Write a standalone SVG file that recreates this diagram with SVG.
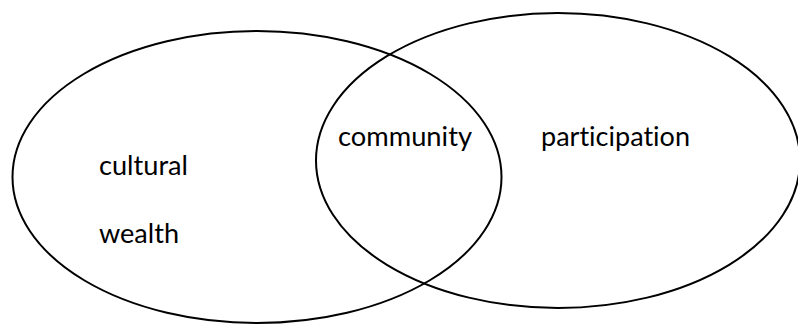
<svg xmlns="http://www.w3.org/2000/svg" width="798" height="324" viewBox="0 0 798 324">
  <style>
    .set { fill: none; stroke: #000; stroke-width: 2; }
    .label { font-family: Lato, "Open Sans", "Liberation Sans", sans-serif; font-size: 27px; fill: #000; font-variant-ligatures: none; font-feature-settings: "liga" 0, "dlig" 0; }
  </style>
  <rect width="798" height="324" fill="#fff"/>
  <!-- left set -->
  <g id="set-cultural-wealth">
    <ellipse class="set" cx="257" cy="177" rx="244.5" ry="146"/>
    <text class="label" x="99" y="175" textLength="89" lengthAdjust="spacingAndGlyphs">cultural</text>
    <text class="label" x="99" y="243" textLength="80" lengthAdjust="spacingAndGlyphs">wealth</text>
  </g>
  <!-- right set -->
  <g id="set-participation">
    <ellipse class="set" cx="558" cy="160.5" rx="242" ry="147.5"/>
    <text class="label" x="541" y="146" textLength="149" lengthAdjust="spacingAndGlyphs">participation</text>
  </g>
  <!-- overlap -->
  <g id="overlap-community">
    <text class="label" x="338" y="146" textLength="134" lengthAdjust="spacingAndGlyphs">community</text>
  </g>
  <g id="connectors"/>
</svg>
